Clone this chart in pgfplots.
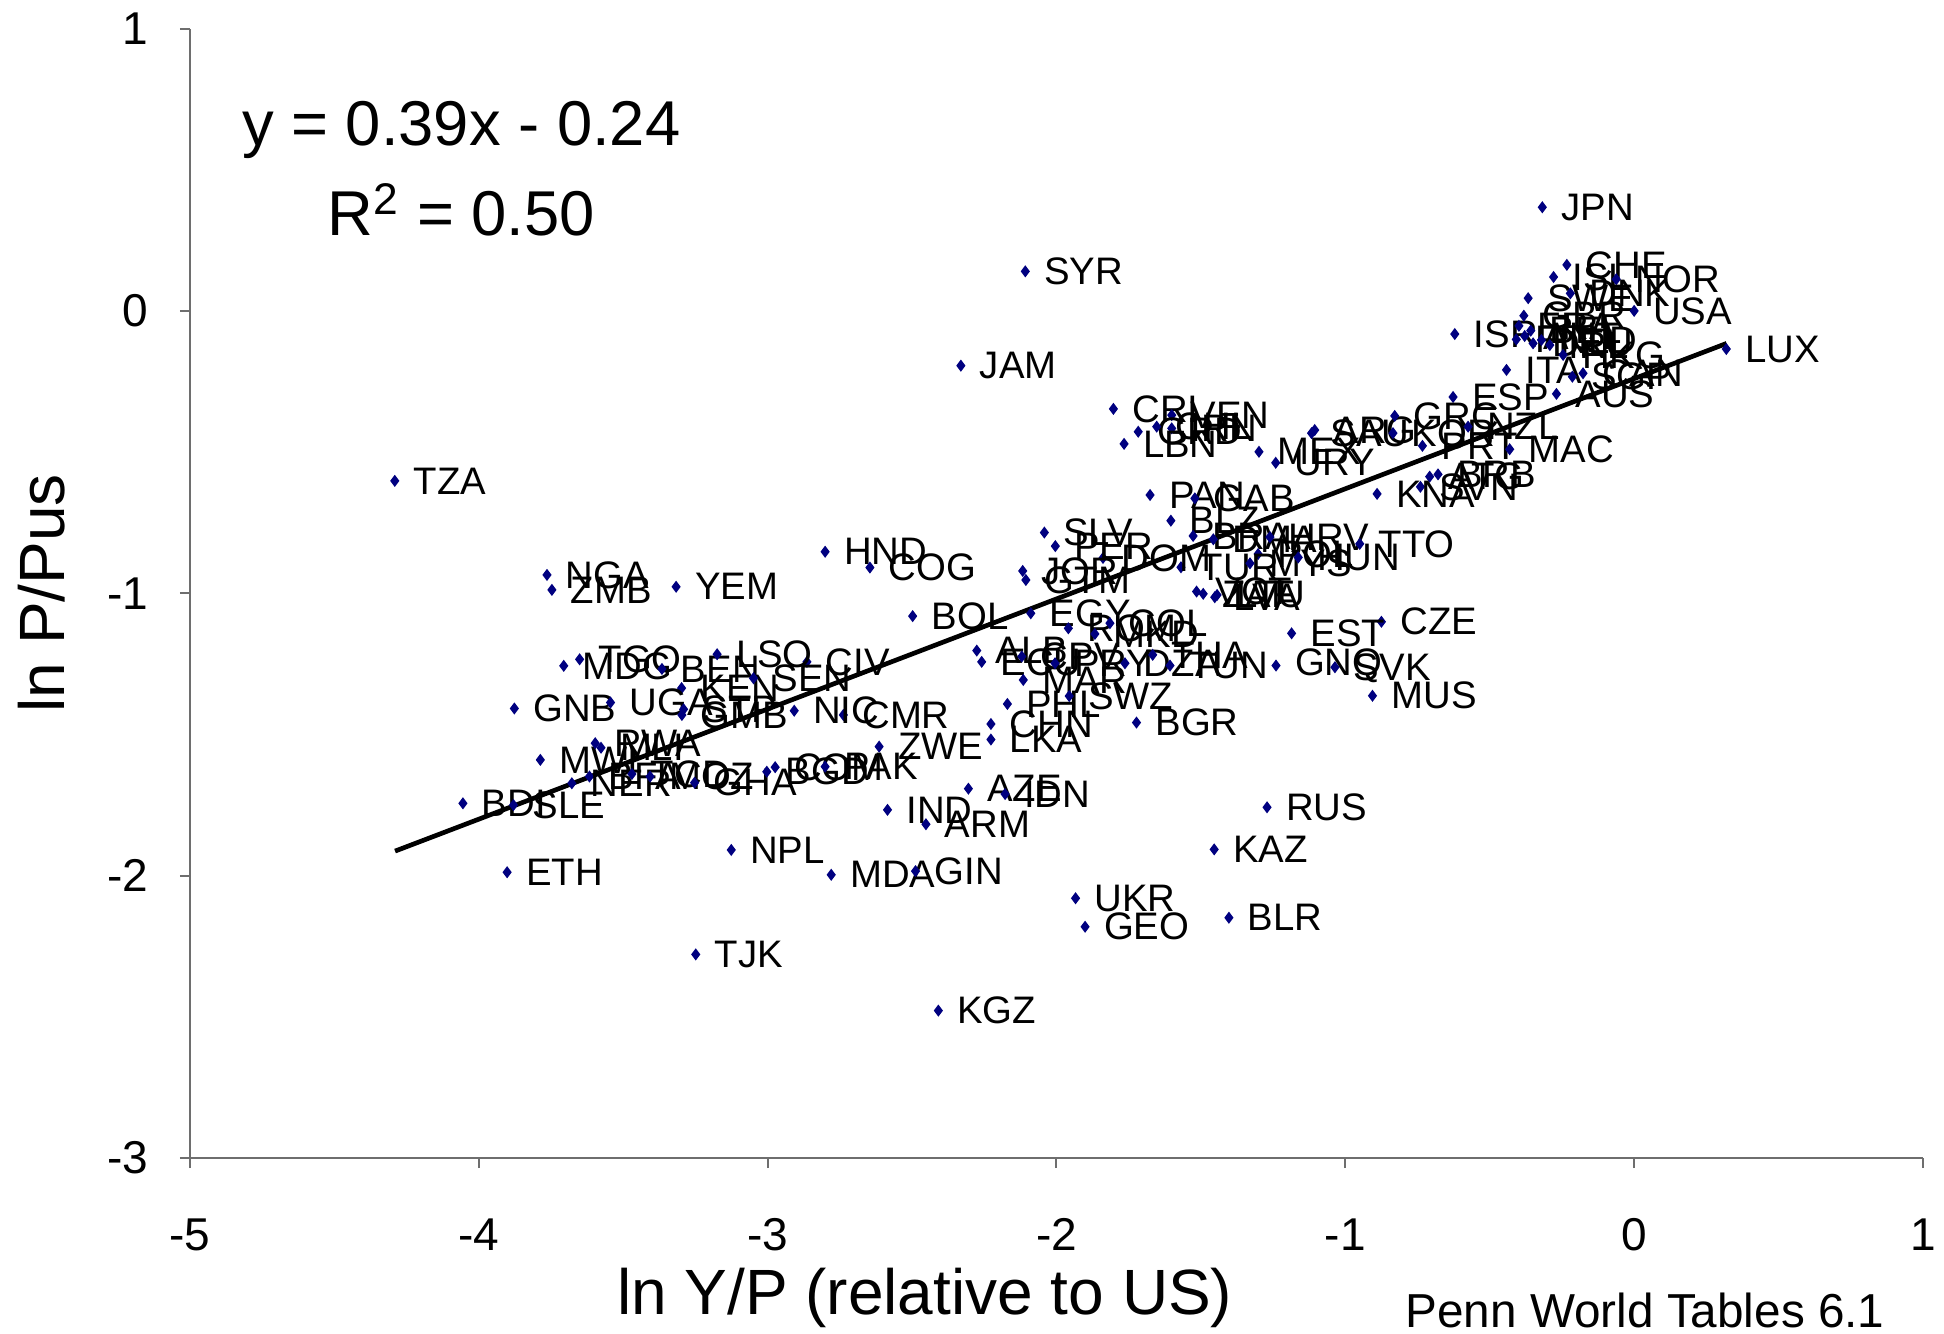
\documentclass[border=0pt]{standalone}
\usepackage{pgfplots}
\usepackage{pgfplotstable}
\pgfplotsset{compat=1.18}
\usepackage{fontspec}
\setmainfont{Liberation Sans}
\definecolor{navyc}{RGB}{0,0,128}
\definecolor{axisgray}{RGB}{110,110,110}

\pgfplotstableread{
x y lab
-0.318 0.367 JPN
-0.233 0.163 CHE
-0.279 0.120 ISL
-0.062 0.112 NOR
-0.367 0.045 SWE
-0.221 0.062 DNK
0.000 0.000 USA
0.319 -0.135 LUX
-0.621 -0.082 ISR
-0.382 -0.017 GBR
-0.399 -0.053 FRA
-0.358 -0.070 BEL
-0.408 -0.101 FIN
-0.350 -0.115 DEU
-0.321 -0.103 NLD
-0.379 -0.089 AUT
-0.292 -0.121 IRL
-0.246 -0.156 HKG
-0.442 -0.209 ITA
-0.214 -0.233 SGP
-0.177 -0.221 CAN
-0.269 -0.294 AUS
-0.627 -0.305 ESP
-1.803 -0.347 CRI
-1.601 -0.369 VEN
-1.717 -0.428 GRD
-1.653 -0.410 CHL
-1.601 -0.416 IRN
-1.766 -0.471 LBN
-1.299 -0.499 MEX
-1.241 -0.538 URY
-1.117 -0.433 SAU
-1.106 -0.422 ARG
-0.829 -0.372 GRC
-0.835 -0.433 KOR
-0.575 -0.410 NZL
-0.733 -0.478 PRT
-0.431 -0.490 MAC
-0.708 -0.587 ATG
-0.679 -0.579 BRB
-0.740 -0.623 SVN
-0.890 -0.648 KNA
-1.676 -0.652 PAN
-1.521 -0.664 GAB
-1.604 -0.743 BLZ
-1.527 -0.797 BRA
-1.457 -0.809 DMA
-1.261 -0.801 HRV
-1.302 -0.861 POL
-0.950 -0.825 TTO
-1.569 -0.908 TUR
-1.330 -0.894 MYS
-1.163 -0.873 HUN
-1.839 -0.875 DOM
-1.515 -0.994 VCT
-1.492 -1.002 ZAF
-1.452 -1.014 LVA
-1.444 -1.006 LTU
-0.875 -1.101 CZE
-1.186 -1.142 EST
-1.240 -1.256 GNQ
-1.036 -1.262 SVK
-0.906 -1.363 MUS
-1.271 -1.758 RUS
-2.498 -1.081 BOL
-2.089 -1.071 EGY
-1.959 -1.124 ROM
-1.867 -1.144 MKD
-1.815 -1.106 COL
-2.276 -1.203 ALB
-2.259 -1.243 ECU
-2.120 -1.224 CPV
-2.005 -1.248 PRY
-1.763 -1.248 DZA
-1.667 -1.218 THA
-1.607 -1.256 TUN
-2.115 -1.307 MAR
-2.170 -1.392 PHL
-1.956 -1.364 SWZ
-1.723 -1.458 BGR
-2.227 -1.463 CHN
-2.227 -1.518 LKA
-2.305 -1.692 AZE
-2.178 -1.711 IDN
-1.454 -1.907 KAZ
-2.042 -0.785 SLV
-2.004 -0.833 PER
-2.117 -0.921 JOR
-2.106 -0.953 GTM
-2.801 -0.853 HND
-2.646 -0.909 COG
-2.614 -1.543 ZWE
-2.738 -1.431 CMR
-2.908 -1.416 NIC
-2.864 -1.243 CIV
-3.651 -1.234 TGO
-3.706 -1.257 MDG
-3.366 -1.268 BEN
-3.175 -1.216 LSO
-3.298 -1.336 KEN
-3.049 -1.301 SEN
-3.877 -1.408 GNB
-3.544 -1.387 UGA
-3.291 -1.411 STP
-3.297 -1.431 GMB
-3.787 -1.590 MWI
-3.597 -1.531 RWA
-3.577 -1.547 MLI
-3.617 -1.649 BFA
-3.678 -1.673 NER
-3.470 -1.640 TCD
-3.407 -1.649 MOZ
-3.253 -1.671 GHA
-3.003 -1.632 BGD
-2.974 -1.616 COM
-2.801 -1.614 PAK
-2.585 -1.767 IND
-2.452 -1.818 ARM
-3.126 -1.909 NPL
-2.780 -1.997 MDA
-2.488 -1.984 GIN
-3.902 -1.988 ETH
-4.055 -1.744 BDI
-3.880 -1.750 SLE
-2.409 -2.478 KGZ
-1.934 -2.080 UKR
-1.901 -2.181 GEO
-1.403 -2.149 BLR
-3.249 -2.279 TJK
-2.108 0.140 SYR
-2.331 -0.194 JAM
-4.291 -0.602 TZA
-3.764 -0.935 NGA
-3.747 -0.988 ZMB
-3.317 -0.977 YEM
}\countries

\begin{document}
\begin{tikzpicture}
\begin{axis}[
  at={(0,0)}, anchor=south west,
  scale only axis, width=519.9pt, height=338.85pt,
  xmin=-5, xmax=1, ymin=-3, ymax=1,
  axis x line*=bottom, axis y line*=left,
  axis line style={axisgray, line width=0.6pt},
  xtick={-5,-4,-3,-2,-1,0,1}, ytick={-3,-2,-1,0,1},
  xticklabels={-5,-4,-3,-2,-1,0,1},
  yticklabels={-3,-2,-1,0,1},
  tick align=outside, major tick length=3pt,
  tick style={axisgray, line width=0.6pt},
  ticklabel style={font=\fontsize{13.8}{16}\selectfont},
  xticklabel style={yshift=-11.6pt},
  yticklabel style={xshift=-5.9pt},
  clip=false,
]
\addplot[only marks, mark=diamond*, mark size=1.5pt, color=navyc,
  nodes near coords, point meta=explicit symbolic,
  nodes near coords align={anchor=west},
  every node near coord/.append style={anchor=west, inner sep=0pt, xshift=5.5pt,
     font=\fontsize{11.5}{13}\selectfont, text=black}]
  table[x=x, y=y, meta=lab] {\countries};
\addplot[black, line width=1.4pt] coordinates {(-4.29,-1.9131) (0.32,-0.1152)};
\node[anchor=base, font=\fontsize{19}{22}\selectfont] at (axis cs:-4.061,0.584) {y = 0.39x - 0.24};
\node[anchor=base, font=\fontsize{19}{22}\selectfont] at (axis cs:-4.061,0.268) {R\textsuperscript{2} = 0.50};
\node[anchor=base west, inner sep=0pt, font=\fontsize{19.2}{22}\selectfont] at ([xshift=127.9pt, yshift=-46.8pt]axis description cs:0,0) {ln Y/P (relative to US)};
\node[anchor=base, inner sep=0pt, rotate=90, font=\fontsize{19.2}{22}\selectfont] at ([xshift=-37.6pt]axis description cs:0,0.5) {ln P/Pus};
\node[anchor=base west, inner sep=0pt, font=\fontsize{14.3}{16}\selectfont] at ([xshift=364.5pt, yshift=-50.8pt]axis description cs:0,0) {Penn World Tables 6.1};
\end{axis}
\pgfresetboundingbox
\useasboundingbox (-57pt,-52.5pt) rectangle (526.2pt,347.4pt);
\end{tikzpicture}
\end{document}
